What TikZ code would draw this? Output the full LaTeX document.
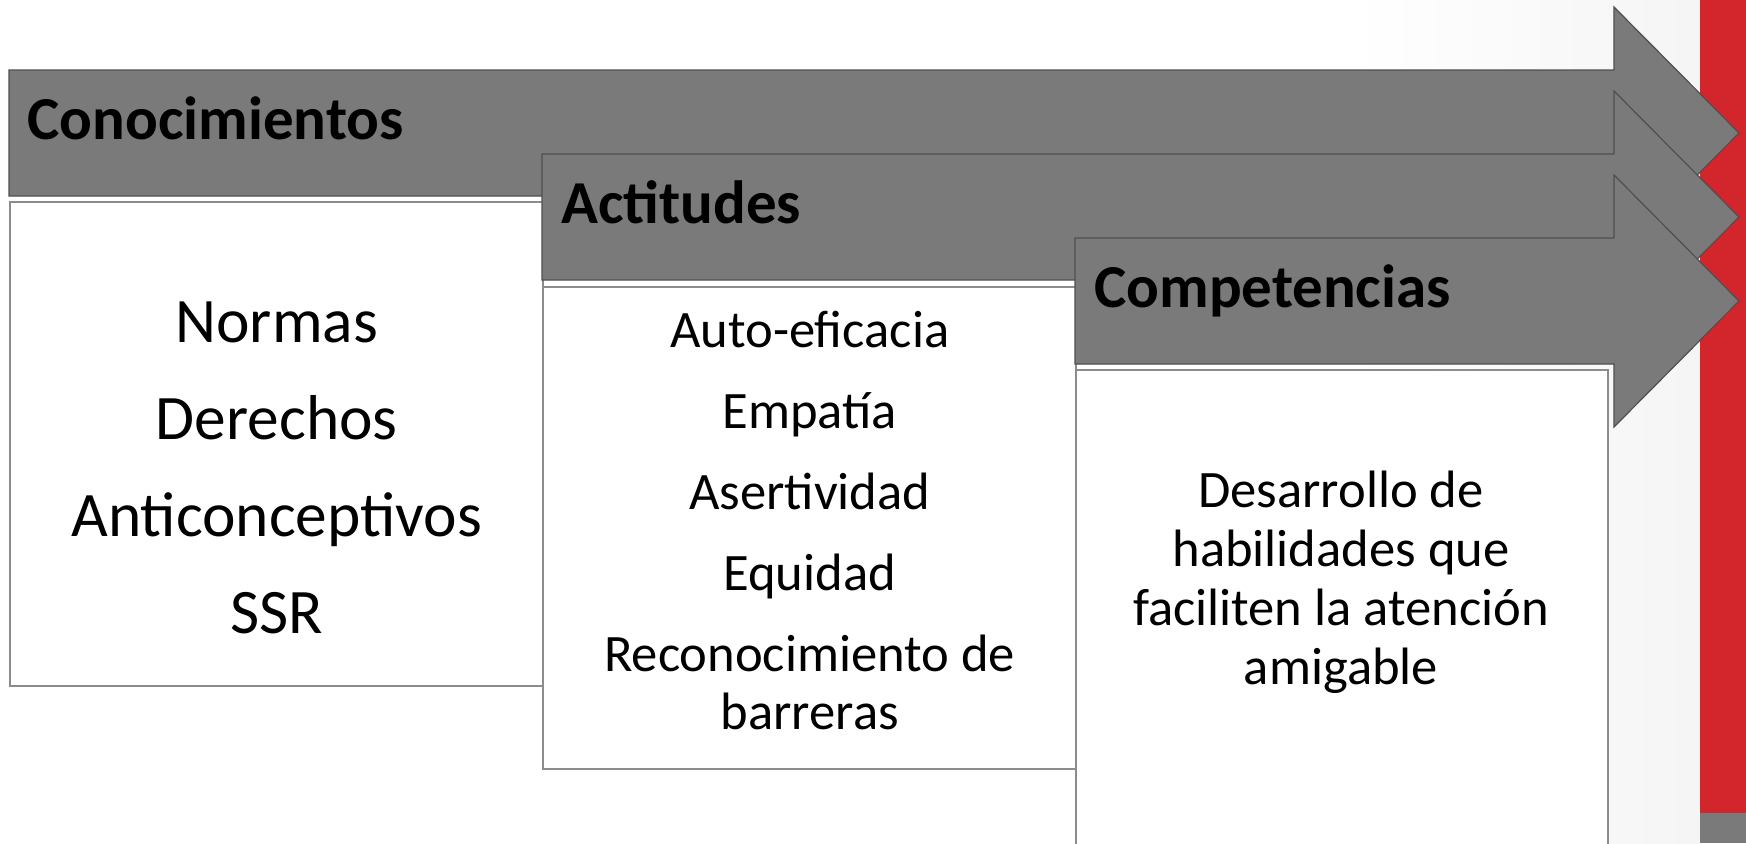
\documentclass[tikz,border=0pt]{standalone}
\usepackage{fontspec}
\setmainfont{Carlito}
\usetikzlibrary{positioning}

\definecolor{bandgray}{HTML}{7A7A7A}
\definecolor{bandedge}{HTML}{4F4F4F}
\definecolor{boxedge}{HTML}{8C8C8C}
\definecolor{slidered}{HTML}{D2262C}

\begin{document}
\begin{tikzpicture}[x=0.5pt,y=-0.5pt,
    band/.style={fill=bandgray,draw=bandedge,line width=0.6pt,line join=miter},
    infobox/.style={draw=boxedge,fill=white,line width=1.2pt,anchor=north west,inner sep=0pt},
    heading/.style={font=\fontsize{30.5}{36}\selectfont\bfseries,anchor=base west,inner sep=0pt},
    bigtext/.style={font=\fontsize{31.7}{48.5}\selectfont,align=center,inner sep=0pt},
    smalltext/.style={font=\fontsize{26.3}{29}\selectfont,align=center,inner sep=0pt}]

    \useasboundingbox (0,0) rectangle (1746,843);
    \clip (0,0) rectangle (1746,843);

    % slide background
    \shade[left color=white,right color=gray!8] (1350,0) rectangle (1700,843);
    \fill[slidered] (1700,0) rectangle (1746,813);
    \fill[bandgray] (1700,813) rectangle (1746,843);

    % first stage
    \draw[band] (9,70) -- (1614,70) -- (1614,7) -- (1739,133) -- (1614,259) -- (1614,196) -- (9,196) -- cycle;
    \node[heading] (headA) at (27,139) {Conocimientos};
    \node[infobox,minimum width=266.5pt,minimum height=242pt] (boxA) at (9,201) {};
    \node[bigtext] (listA) at ([yshift=-12pt]boxA.center) {Normas\\Derechos\\Anticonceptivos\\SSR};

    % second stage
    \draw[band] (542,154) -- (1614,154) -- (1614,91) -- (1739,217) -- (1614,343) -- (1614,280) -- (542,280) -- cycle;
    \node[heading] (headB) at (561,223) {Actitudes};
    \node[infobox,minimum width=266.5pt,minimum height=241pt] (boxB) at (542,286) {};
    \node[smalltext] (listB) at ([yshift=4pt]boxB.center)
        {Auto-eficacia\\[11.5pt]Empatía\\[11.5pt]Asertividad\\[11.5pt]Equidad\\[11.5pt]Reconocimiento de\\barreras};

    % third stage
    \draw[band] (1075,238) -- (1614,238) -- (1614,175) -- (1739,301) -- (1614,427) -- (1614,364) -- (1075,364) -- cycle;
    \node[heading] (headC) at (1094,307) {Competencias};
    \node[infobox,minimum width=266pt,minimum height=266pt] (boxC) at (1075,369) {};
    \node[smalltext,font=\fontsize{26.3}{29.5}\selectfont] (listC) at (1341,582)
        {Desarrollo de\\habilidades que\\faciliten la atención\\amigable};

\end{tikzpicture}
\end{document}
